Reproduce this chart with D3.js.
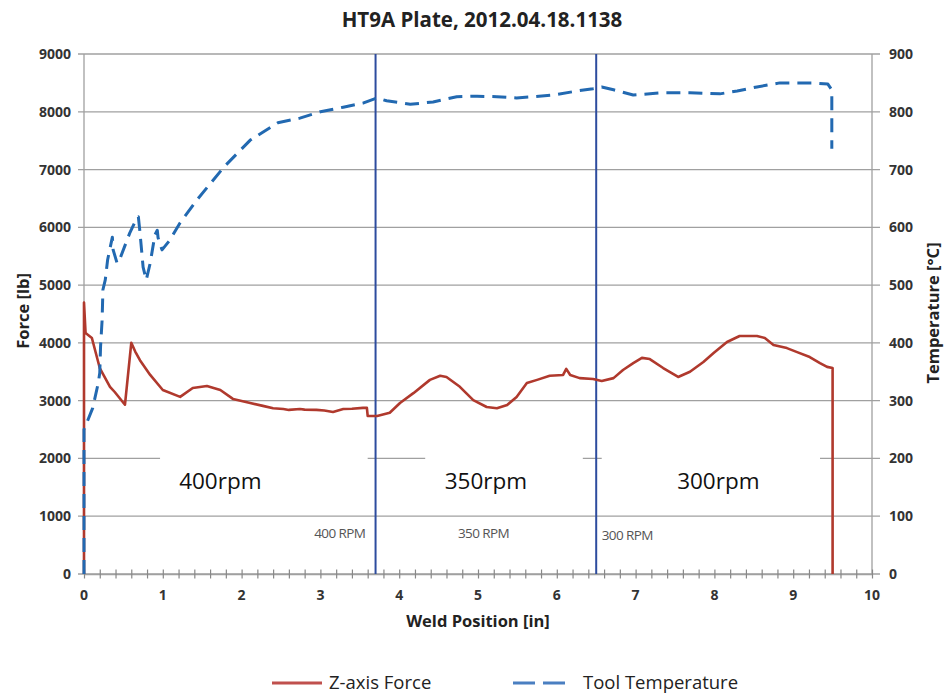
<!DOCTYPE html>
<html>
<head>
<meta charset="utf-8">
<script src="https://cdn.jsdelivr.net/npm/d3@7"></script>
<style>
  body { margin: 0; background: #fff; }
  svg { display: block; font-family: "Open Sans", "DejaVu Sans", sans-serif; }
</style>
</head>
<body>
<svg id="chart" width="945" height="696"></svg>
<script>
// Z-axis force along the weld: position (in) and force (lb)
const forcePos = [0, 0, 0.02, 0.1, 0.2, 0.33, 0.39, 0.52, 0.6, 0.65, 0.71, 0.84, 1.0, 1.22, 1.38, 1.56, 1.73, 1.89,
  2.11, 2.27, 2.4, 2.53, 2.6, 2.74, 2.8, 2.95, 3.05, 3.16, 3.29, 3.4, 3.54, 3.59, 3.6, 3.72, 3.88, 4.01, 4.18, 4.39,
  4.52, 4.6, 4.77, 4.94, 5.11, 5.24, 5.37, 5.49, 5.62, 5.75, 5.91, 6.08, 6.12, 6.17, 6.29, 6.46, 6.57, 6.72, 6.84,
  6.97, 7.08, 7.18, 7.35, 7.54, 7.69, 7.86, 7.99, 8.16, 8.32, 8.54, 8.64, 8.75, 8.92, 9.05, 9.21, 9.34, 9.43, 9.5, 9.5];
const forceLb = [0, 4700, 4170, 4085, 3565, 3240, 3150, 2930, 4000, 3850, 3700, 3445, 3185, 3065, 3220, 3255, 3185, 3030,
  2960, 2910, 2870, 2855, 2840, 2855, 2845, 2840, 2830, 2805, 2855, 2860, 2875, 2875, 2735, 2735, 2790, 2960, 3130, 3360,
  3430, 3410, 3240, 3010, 2890, 2870, 2925, 3065, 3305, 3360, 3430, 3445, 3550, 3445, 3390, 3375, 3340, 3390, 3530,
  3650, 3740, 3720, 3565, 3410, 3500, 3670, 3825, 4015, 4120, 4120, 4085, 3965, 3910, 3840, 3755, 3650, 3585, 3565, 0];

// Tool temperature along the weld: position (in) and temperature (°C)
const tempPos = [0, 0, 0.11, 0.18, 0.2, 0.21, 0.23, 0.24, 0.27, 0.3, 0.36, 0.37, 0.42, 0.46, 0.58, 0.67, 0.69, 0.71,
  0.75, 0.79, 0.84, 0.9, 0.93, 0.94, 0.99, 1.09, 1.22, 1.43, 1.78, 2.11, 2.46, 2.74, 3.0, 3.29, 3.54, 3.72, 3.84,
  4.14, 4.43, 4.73, 4.99, 5.24, 5.49, 5.7, 5.95, 6.26, 6.46, 6.57, 6.72, 6.97, 7.35, 7.69, 8.07, 8.29, 8.54, 8.83,
  9.25, 9.44, 9.49, 9.49];
const tempC = [0, 250, 287, 330, 348, 393, 440, 492, 509, 544, 583, 561, 538, 547, 590, 616, 618, 592,
  531, 509, 538, 587, 595, 582, 561, 578, 608, 647, 705, 751, 781, 789, 800, 808, 815, 824, 819,
  813, 817, 826, 827, 826, 824, 826, 829, 836, 840, 843, 838, 829, 833, 833, 831, 836, 843, 850,
  850, 848, 838, 736];

// Spindle speed changes (in) and the speed of each segment
const rpmChangePos = [3.7, 6.5];
const rpmSegmentText = ["400rpm", "350rpm", "300rpm"];
const rpmMarkText = ["400 RPM", "350 RPM", "300 RPM"];

// Axis ticks
const forceTicks = [0, 1000, 2000, 3000, 4000, 5000, 6000, 7000, 8000, 9000];
const tempTicks = [0, 100, 200, 300, 400, 500, 600, 700, 800, 900];
const posTicks = [0, 1, 2, 3, 4, 5, 6, 7, 8, 9, 10];

const seriesNames = ["Z-axis Force", "Tool Temperature"];

// ---- layout ----
const W = 945, H = 696;
const m = { left: 84, right: 73, top: 54, bottom: 122 };
const pw = W - m.left - m.right, ph = H - m.top - m.bottom;

const svg = d3.select("#chart");
const g = svg.append("g").attr("transform", `translate(${m.left},${m.top})`);

const x = d3.scaleLinear().domain([0, 10]).range([0, pw]);
const yF = d3.scaleLinear().domain([0, 9000]).range([ph, 0]);
const yT = d3.scaleLinear().domain([0, 900]).range([ph, 0]);

const gridColor = "#a0a0a0", textColor = "#333";
const red = "#b0392d", blue = "#2269b1", rpmBlue = "#2d4c9e";

// horizontal gridlines, extending past both axes as tick marks
g.append("g").selectAll("line").data(forceTicks).join("line")
  .attr("x1", -6).attr("x2", pw + 8)
  .attr("y1", d => yF(d)).attr("y2", d => yF(d))
  .attr("stroke", gridColor).attr("stroke-width", 1.3);

// axis lines
g.append("line").attr("x1", 0).attr("x2", 0).attr("y1", 0).attr("y2", ph)
  .attr("stroke", gridColor).attr("stroke-width", 1.3);
g.append("line").attr("x1", pw).attr("x2", pw).attr("y1", 0).attr("y2", ph)
  .attr("stroke", gridColor).attr("stroke-width", 1.3);

// white text boxes for the speed segment labels
const boxes = [[0.965, 3.6], [4.33, 6.33], [6.57, 9.34]];
g.append("g").selectAll("rect").data(boxes).join("rect")
  .attr("x", d => x(d[0])).attr("width", d => x(d[1]) - x(d[0]))
  .attr("y", yF(2000) - 22).attr("height", 52)
  .attr("fill", "#fff");

// bottom axis with minor ticks every 0.2 in
const xAxis = d3.axisBottom(x).tickValues(d3.range(0, 10.001, 0.2)).tickSize(0).tickFormat("");
const xa = g.append("g").attr("transform", `translate(0,${ph})`).call(xAxis);
xa.select(".domain").attr("stroke", gridColor).attr("stroke-width", 1.3);
xa.selectAll(".tick line").attr("y1", -4.5).attr("y2", 4.5)
  .attr("stroke", "#888").attr("stroke-width", 1.2);

// tick labels
g.append("g").selectAll("text").data(posTicks).join("text")
  .attr("x", d => x(d)).attr("y", ph + 26)
  .attr("text-anchor", "middle").attr("font-size", 14).attr("font-weight", 700)
  .attr("fill", textColor).text(d => d);
g.append("g").selectAll("text").data(forceTicks).join("text")
  .attr("x", -13).attr("y", d => yF(d) + 5)
  .attr("text-anchor", "end").attr("font-size", 14).attr("font-weight", 700)
  .attr("fill", textColor).text(d => d);
g.append("g").selectAll("text").data(tempTicks).join("text")
  .attr("x", pw + 17).attr("y", d => yT(d) + 5)
  .attr("text-anchor", "start").attr("font-size", 14).attr("font-weight", 700)
  .attr("fill", textColor).text(d => d);

// speed change markers
g.append("g").selectAll("line").data(rpmChangePos).join("line")
  .attr("x1", d => x(d)).attr("x2", d => x(d)).attr("y1", 0).attr("y2", ph)
  .attr("stroke", rpmBlue).attr("stroke-width", 2);

// speed segment labels
const segX = [1.73, 5.1, 8.05];
g.append("g").selectAll("text").data(rpmSegmentText).join("text")
  .attr("x", (d, i) => x(segX[i])).attr("y", yF(2000) + 31)
  .attr("text-anchor", "middle").attr("font-size", 22.5)
  .attr("fill", "#111").text(d => d);

const markX = [3.57, 5.07, 6.57];
const markAnchor = ["end", "middle", "start"];
g.append("g").selectAll("text").data(rpmMarkText).join("text")
  .attr("x", (d, i) => x(markX[i])).attr("y", (d, i) => yF(0) - (i === 2 ? 34 : 36))
  .attr("text-anchor", (d, i) => markAnchor[i]).attr("font-size", 13.5)
  .attr("letter-spacing", -0.6)
  .attr("fill", "#555").text(d => d);

// series lines
const forceData = forcePos.map((p, i) => [p, forceLb[i]]);
const tempData = tempPos.map((p, i) => [p, tempC[i]]);

g.append("path").datum(forceData)
  .attr("d", d3.line().x(d => x(d[0])).y(d => yF(d[1])))
  .attr("fill", "none").attr("stroke", red).attr("stroke-width", 2.6)
  .attr("stroke-linejoin", "round");

g.append("path").datum(tempData)
  .attr("d", d3.line().x(d => x(d[0])).y(d => yT(d[1])))
  .attr("fill", "none").attr("stroke", blue).attr("stroke-width", 3)
  .attr("stroke-dasharray", "14,8").attr("stroke-linejoin", "round");

// titles
svg.append("text").attr("x", 482).attr("y", 27).attr("text-anchor", "middle")
  .attr("font-size", 20.5).attr("font-weight", 700).attr("fill", "#222")
  .text("HT9A Plate, 2012.04.18.1138");
svg.append("text").attr("x", 478).attr("y", 627).attr("text-anchor", "middle")
  .attr("font-size", 16.5).attr("font-weight", 700).attr("fill", "#222")
  .text("Weld Position [in]");
svg.append("text").attr("transform", `translate(29,${m.top + ph / 2 - 3}) rotate(-90)`)
  .attr("text-anchor", "middle").attr("font-size", 16.5).attr("font-weight", 700).attr("fill", "#222")
  .text("Force [lb]");
svg.append("text").attr("transform", `translate(939,${m.top + ph / 2 - 1}) rotate(-90)`)
  .attr("text-anchor", "middle").attr("font-size", 16.5).attr("font-weight", 700).attr("fill", "#222")
  .text("Temperature [°C]");

// legend
const lg = svg.append("g");
lg.append("line").attr("x1", 272).attr("x2", 322).attr("y1", 683).attr("y2", 683)
  .attr("stroke", "#c0504d").attr("stroke-width", 3);
lg.append("text").attr("x", 329).attr("y", 689).attr("font-size", 18.5).attr("fill", "#222")
  .text(seriesNames[0]);
lg.append("line").attr("x1", 513).attr("x2", 571).attr("y1", 683).attr("y2", 683)
  .attr("stroke", "#4a7fc1").attr("stroke-width", 3).attr("stroke-dasharray", "22,8");
lg.append("text").attr("x", 583).attr("y", 689).attr("font-size", 18.5).attr("fill", "#222")
  .text(seriesNames[1]);
</script>
</body>
</html>
